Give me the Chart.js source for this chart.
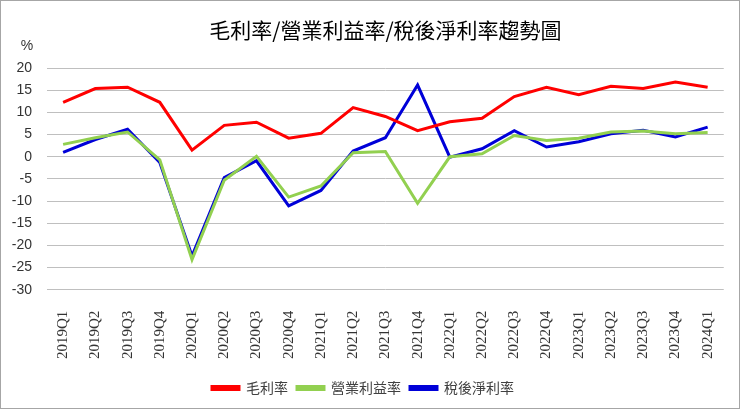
<!DOCTYPE html>
<html>
<head>
<meta charset="utf-8">
<script src="https://cdn.jsdelivr.net/npm/chart.js@4.4.1/dist/chart.umd.min.js"></script>
<style>
    html, body { margin: 0; padding: 0; background: #fff; }
    #wrap {
        position: absolute; left: 0; top: 0;
        width: 738px; height: 407px;
        border: 1px solid #a6a6a6;
    }
</style>
</head>
<body>
<div id="wrap"><canvas id="marginChart" width="738" height="407"></canvas></div>
<script>
const quarters = ['2019Q1', '2019Q2', '2019Q3', '2019Q4', '2020Q1', '2020Q2', '2020Q3', '2020Q4',
    '2021Q1', '2021Q2', '2021Q3', '2021Q4', '2022Q1', '2022Q2', '2022Q3', '2022Q4',
    '2023Q1', '2023Q2', '2023Q3', '2023Q4', '2024Q1'];

const grossMargin = [12.3, 15.4, 15.7, 12.3, 1.5, 7.1, 7.8, 4.2, 5.3, 11.1, 9.1, 5.9,
    7.9, 8.7, 13.6, 15.7, 14.0, 15.9, 15.4, 16.9, 15.7];
const operatingMargin = [2.8, 4.3, 5.6, -0.7, -23.2, -5.3, 0.1, -9.1, -6.6, 0.9, 1.2, -10.5,
    0.0, 0.7, 4.8, 3.7, 4.2, 5.6, 5.8, 5.2, 5.5];
const netMargin = [1.0, 3.9, 6.2, -1.3, -22.4, -4.7, -0.9, -11.1, -7.6, 1.3, 4.3, 16.2,
    -0.1, 1.8, 5.9, 2.2, 3.4, 5.2, 6.0, 4.5, 6.7];

const seriesNames = ['毛利率', '營業利益率', '稅後淨利率'];
const yMin = -30, yMax = 20, yStep = 5;

const cjkFont = '"Noto Sans CJK TC", "Noto Sans CJK SC", sans-serif';

// draws the little "%" unit above the y axis labels
const unitLabel = {
    id: 'unitLabel',
    afterDraw: function (chart) {
        const ctx = chart.ctx;
        ctx.save();
        ctx.font = '14px "Liberation Sans", sans-serif';
        ctx.fillStyle = '#333';
        ctx.textAlign = 'center';
        ctx.textBaseline = 'middle';
        ctx.fillText('%', 26, chart.chartArea.top - 22);
        ctx.restore();
    }
};

const ctx = document.getElementById('marginChart').getContext('2d');
new Chart(ctx, {
    type: 'line',
    data: {
        labels: quarters,
        datasets: [
            {
                label: seriesNames[0],
                data: grossMargin,
                borderColor: '#ff0000',
                backgroundColor: '#ff0000',
                borderWidth: 3
            },
            {
                label: seriesNames[1],
                data: operatingMargin,
                borderColor: '#92d050',
                backgroundColor: '#92d050',
                borderWidth: 3
            },
            {
                label: seriesNames[2],
                data: netMargin,
                borderColor: '#0000d8',
                backgroundColor: '#0000d8',
                borderWidth: 3
            }
        ]
    },
    options: {
        responsive: false,
        animation: false,
        layout: { padding: { left: 0, right: 14, top: 8, bottom: 3 } },
        elements: {
            point: { radius: 0, hoverRadius: 0 },
            line: { tension: 0 }
        },
        plugins: {
            title: {
                display: true,
                fullSize: false,
                text: '毛利率/營業利益率/稅後淨利率趨勢圖',
                color: '#000',
                font: { family: cjkFont, size: 21, weight: 'normal' },
                padding: { top: 8, bottom: 26 }
            },
            legend: {
                position: 'bottom',
                labels: {
                    boxWidth: 27,
                    boxHeight: 3,
                    padding: 9,
                    color: '#404040',
                    font: { family: cjkFont, size: 14 }
                }
            },
            tooltip: { enabled: false }
        },
        scales: {
            x: {
                offset: true,
                grid: { display: false },
                border: { display: false },
                ticks: {
                    autoSkip: false,
                    minRotation: 90,
                    maxRotation: 90,
                    padding: 13,
                    color: '#333',
                    font: { family: '"Liberation Serif", serif', size: 15 }
                }
            },
            y: {
                min: yMin,
                max: yMax,
                afterFit: function (scale) { scale.width = 46; },
                grid: { color: '#bfbfbf', lineWidth: 1, drawTicks: false },
                border: { display: false },
                ticks: {
                    stepSize: yStep,
                    padding: 15,
                    color: '#333',
                    font: { family: '"Liberation Sans", sans-serif', size: 14 }
                }
            }
        }
    },
    plugins: [unitLabel]
});
</script>
</body>
</html>
